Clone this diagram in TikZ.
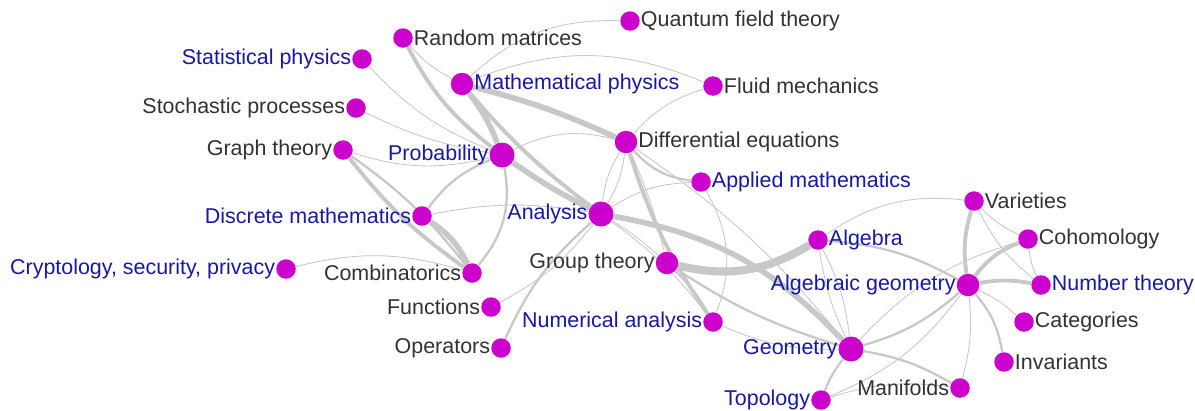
\documentclass[tikz,border=0pt]{standalone}
\usepackage{fontspec}
\setmainfont{Liberation Sans}
\usetikzlibrary{backgrounds}
\definecolor{topicmag}{RGB}{204,0,204}
\definecolor{topicblue}{RGB}{24,24,160}
\definecolor{topicdark}{RGB}{50,50,50}
\definecolor{linkgray}{RGB}{200,200,200}

\begin{document}
\begin{tikzpicture}[x=0.02cm, y=-0.02cm,
    topic/.style={circle, fill=topicmag, inner sep=0pt, minimum size=0.39cm},
    bigtopic/.style={topic, minimum size=0.5cm},
    midtopic/.style={topic, minimum size=0.45cm},
    blu/.style={text=topicblue, inner sep=0.3pt, font=\fontsize{12.2}{14}\selectfont},
    drk/.style={text=topicdark, inner sep=0.3pt, font=\fontsize{12.2}{14}\selectfont},
    link/.style={draw=linkgray, line width=0.5pt},
    linkb/.style={draw=linkgray, line width=1.3pt},
    linkc/.style={draw=linkgray, line width=2.2pt},
    linkd/.style={draw=linkgray, line width=3.2pt},
    linke/.style={draw=linkgray, line width=4.6pt}]
    \useasboundingbox (0,0) rectangle (1195,410);

    % topics, top to bottom
    \node[topic, label={[drk]right:Quantum field theory}] (qft) at (630,21) {};
    \node[topic, label={[drk]right:Random matrices}] (rmat) at (403,38) {};
    \node[topic, label={[blu]left:Statistical physics}] (statphys) at (362,59) {};
    \node[midtopic, label={[blu]right:Mathematical physics}] (mphys) at (462,84) {};
    \node[topic, label={[drk]right:Fluid mechanics}] (fluid) at (713,86) {};
    \node[topic, label={[drk]left:Stochastic processes}] (stoch) at (356,108) {};
    \node[midtopic, label={[drk]right:Differential equations}] (diffeq) at (626,142) {};
    \node[topic, label={[drk]left:Graph theory}] (graph) at (343,150) {};
    \node[bigtopic, label={[blu]left:Probability}] (prob) at (502,155) {};
    \node[topic, label={[blu]right:Applied mathematics}] (appl) at (701,182) {};
    \node[topic, label={[blu]left:Discrete mathematics}] (discr) at (422,216) {};
    \node[bigtopic, label={[blu]left:Analysis}] (anal) at (601,214) {};
    \node[topic, label={[drk]right:Varieties}] (var) at (974,201) {};
    \node[topic, label={[drk]right:Cohomology}] (cohom) at (1028,239) {};
    \node[topic, label={[blu]right:Algebra}] (alg) at (818,240) {};
    \node[topic, label={[blu]left:Cryptology, security, privacy}] (crypt) at (286,269) {};
    \node[topic, label={[drk]left:Combinatorics}] (comb) at (472,273) {};
    \node[midtopic, label={[drk]left:Group theory}] (group) at (667,263) {};
    \node[midtopic, label={[blu]left:Algebraic geometry}] (ageo) at (968,285) {};
    \node[topic, label={[blu]right:Number theory}] (numth) at (1041,285) {};
    \node[topic, label={[drk]left:Functions}] (func) at (491,307) {};
    \node[topic, label={[blu]left:Numerical analysis}] (numan) at (713,322) {};
    \node[topic, label={[drk]right:Categories}] (categ) at (1024,322) {};
    \node[topic, label={[drk]left:Operators}] (oper) at (501,348) {};
    \node[bigtopic, label={[blu]left:Geometry}] (geom) at (851,349) {};
    \node[topic, label={[drk]right:Invariants}] (invar) at (1004,362) {};
    \node[topic, label={[drk]left:Manifolds}] (manif) at (960,388) {};
    \node[topic, label={[blu]left:Topology}] (topo) at (821,400) {};

    % links behind the topics
    \begin{scope}[on background layer]
    \draw[link] (qft) to[bend right=22] (mphys);
    \draw[link] (mphys) to[bend left=22] (fluid);
    \draw[link] (rmat) to[bend right=10] (mphys);
    \draw[linkc] (rmat) to[bend right=12] (prob);
    \draw[linkd] (mphys) to[bend left=8] (prob);
    \draw[linkc] (mphys) to[bend right=6] (anal);
    \draw[linkd] (mphys) to[bend left=5] (diffeq);
    \draw[link] (statphys) to[bend right=12] (prob);
    \draw[link] (stoch) to[bend right=8] (prob);
    \draw[link] (graph) to[bend right=15] (prob);
    \draw[linkc] (graph) to[bend right=8] (comb);
    \draw[linkb] (graph) to[bend left=8] (comb);
    \draw[linkd] (discr) to[bend left=15] (comb);
    \draw[linkb] (discr) to[bend left=15] (prob);
    \draw[linkb] (comb) to[bend right=25] (prob);
    \draw[link] (discr) to[bend left=10] (anal);
    \draw[link] (crypt) to[bend left=15] (comb);
    \draw[link] (prob) to[bend left=20] (diffeq);
    \draw[linkd] (prob) to[bend right=4] (anal);
    \draw[link] (diffeq) to[bend left=15] (fluid);
    \draw[linkb] (diffeq) to[bend right=20] (appl);
    \draw[link] (diffeq) to[bend right=12] (anal);
    \draw[link] (diffeq) to[bend left=12] (anal);
    \draw[linkc] (diffeq) to[bend right=8] (numan);
    \draw[link] (diffeq) to[bend left=8] (geom);
    \draw[link] (diffeq) to[bend left=5] (group);
    \draw[link] (anal) to[bend left=15] (appl);
    \draw[link] (anal) to[bend left=5] (group);
    \draw[linkd] (anal) to[bend left=18] (geom);
    \draw[link] (anal) to[bend left=12] (func);
    \draw[linkb] (anal) to[bend right=12] (oper);
    \draw[link] (anal) to[bend left=8] (numan);
    \draw[linke] (group) to[bend right=22] (alg);
    \draw[linkb] (group) to[bend right=8] (geom);
    \draw[linkb] (group) to[bend left=8] (numan);
    \draw[link] (appl) to[bend left=25] (numan);
    \draw[link] (numan) to[bend right=12] (geom);
    \draw[link] (alg) to[bend left=20] (var);
    \draw[linkb] (alg) to[bend left=12] (ageo);
    \draw[link] (alg) to[bend left=10] (geom);
    \draw[link] (alg) to[bend right=8] (geom);
    \draw[linkc] (ageo) to[bend left=12] (var);
    \draw[linkc] (ageo) to[bend left=15] (cohom);
    \draw[linkc] (ageo) to[bend left=10] (numth);
    \draw[link] (ageo) to[bend left=8] (categ);
    \draw[linkb] (ageo) to[bend left=15] (invar);
    \draw[link] (ageo) to[bend left=10] (manif);
    \draw[linkb] (ageo) to[bend left=12] (geom);
    \draw[link] (ageo) to[bend left=15] (topo);
    \draw[link] (var) to[bend right=10] (cohom);
    \draw[link] (var) to[bend right=12] (numth);
    \draw[link] (cohom) to[bend right=10] (numth);
    \draw[link] (cohom) to[bend right=15] (geom);
    \draw[linkb] (geom) to[bend right=8] (topo);
    \draw[linkb] (geom) to[bend left=10] (manif);
    \draw[link] (topo) to[bend left=12] (manif);
    \end{scope}
\end{tikzpicture}
\end{document}
